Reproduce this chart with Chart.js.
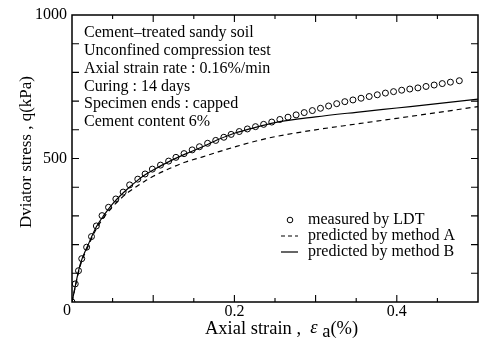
<!DOCTYPE html>
<html>
<head>
<meta charset="utf-8">
<script src="https://cdn.jsdelivr.net/npm/chart.js@4.4.0/dist/chart.umd.min.js"></script>
<style>
  html, body { margin: 0; padding: 0; background: #fff; }
  #wrap { width: 483px; height: 339px; }
</style>
</head>
<body>
<div id="wrap"><canvas id="myChart"></canvas></div>
<script>
// measured by LDT (open circles)
const measuredStrain = [0, 0.004, 0.008, 0.012, 0.018, 0.024, 0.030, 0.037, 0.045, 0.054, 0.063, 0.071, 0.081, 0.090, 0.099,
  0.109, 0.119, 0.128, 0.138, 0.148, 0.157, 0.167, 0.177, 0.187, 0.196, 0.206, 0.216, 0.226, 0.236, 0.246, 0.256, 0.266,
  0.276, 0.286, 0.296, 0.306, 0.316, 0.326, 0.336, 0.346, 0.356, 0.366, 0.376, 0.386, 0.396, 0.406, 0.416, 0.426, 0.436,
  0.446, 0.456, 0.466, 0.477];
const measuredStress = [0, 63, 109, 151, 191, 228, 265, 301, 330, 359, 383, 408, 428, 446, 463,
  477, 491, 504, 517, 530, 541, 553, 563, 574, 584, 594, 603, 611, 619, 627, 636, 644,
  652, 660, 667, 675, 683, 691, 698, 704, 710, 716, 722, 728, 733, 738, 742, 746, 751,
  756, 761, 766, 771];

// predicted curves
const predStrain = [0, 0.01, 0.02, 0.03, 0.04, 0.05, 0.06, 0.07, 0.08, 0.09, 0.1, 0.12, 0.14, 0.16, 0.18, 0.2, 0.22, 0.25, 0.3, 0.35, 0.4, 0.45, 0.5];
const methodA = [0, 125, 195, 255, 298, 332, 360, 384, 403, 422, 438, 465, 488, 505, 523, 540, 556, 576, 600, 620, 640, 660, 681];
const methodB = [0, 130, 200, 262, 305, 342, 372, 398, 422, 443, 460, 490, 516, 540, 566, 588, 604, 625, 645, 661, 676, 691, 707];

const xTickLabels = [0.2, 0.4];
const yTickLabels = [500, 1000];

const infoLines = [
  'Cement\u2013treated sandy soil',
  'Unconfined compression test',
  'Axial strain rate : 0.16%/min',
  'Curing : 14 days',
  'Specimen ends : capped',
  'Cement content 6%'
];
const legendLabels = ['measured by LDT', 'predicted by method A', 'predicted by method B'];

const toPoints = (xs, ys) => xs.map((x, i) => ({ x: x, y: ys[i] }));
const serif = '"Liberation Serif", "DejaVu Serif", serif';

// frame, inward ticks, notes and legend
const decorPlugin = {
  id: 'decor',
  afterDraw(chart) {
    const ctx = chart.ctx;
    const a = chart.chartArea;
    const xs = chart.scales.x;
    const ys = chart.scales.y;
    ctx.save();
    ctx.strokeStyle = '#000';
    ctx.lineWidth = 1.5;
    ctx.strokeRect(a.left, a.top, a.right - a.left, a.bottom - a.top);

    ctx.lineWidth = 1.1;
    ctx.beginPath();
    for (let i = 1; i < 10; i++) {
      const px = xs.getPixelForValue(i * 0.05);
      const len = (i % 2 === 0) ? 7 : 4;
      ctx.moveTo(px, a.bottom); ctx.lineTo(px, a.bottom - len);
      ctx.moveTo(px, a.top); ctx.lineTo(px, a.top + len);
    }
    for (let i = 1; i < 10; i++) {
      const py = ys.getPixelForValue(i * 100);
      ctx.moveTo(a.left, py); ctx.lineTo(a.left + 7, py);
      ctx.moveTo(a.right, py); ctx.lineTo(a.right - 7, py);
    }
    ctx.stroke();

    ctx.fillStyle = '#000';
    ctx.font = '16px ' + serif;
    ctx.textAlign = 'center';
    ctx.textBaseline = 'middle';
    ctx.fillText('0', a.left - 5, a.bottom + 9);

    // x axis title with subscript
    let x = 205;
    ctx.textAlign = 'left';
    ctx.font = '18.5px ' + serif;
    ctx.fillText('Axial strain ,  ', x, 329);
    x += ctx.measureText('Axial strain ,  ').width;
    ctx.font = 'italic 18.5px ' + serif;
    ctx.fillText('\u03b5', x, 328);
    x += ctx.measureText('\u03b5 ').width;
    ctx.font = '18.5px ' + serif;
    ctx.fillText('a', x, 332);
    x += ctx.measureText('a').width;
    ctx.fillText('(%)', x, 329);

    ctx.save();
    ctx.translate(27, 152);
    ctx.rotate(-Math.PI / 2);
    ctx.textAlign = 'center';
    ctx.font = '17px ' + serif;
    ctx.fillText('Dviator stress , q(kPa)', 0, 0);
    ctx.restore();

    // notes
    ctx.font = '16px ' + serif;
    ctx.textAlign = 'left';
    infoLines.forEach((t, i) => ctx.fillText(t, 84, 33 + i * 17.8));

    // legend
    const lx = 281, tx = 308;
    const rows = [220, 236, 252];
    ctx.font = '16px ' + serif;
    legendLabels.forEach((t, i) => ctx.fillText(t, tx, rows[i]));
    ctx.lineWidth = 1;
    ctx.beginPath();
    ctx.arc(lx + 9, rows[0], 2.8, 0, Math.PI * 2);
    ctx.stroke();
    ctx.lineWidth = 1.2;
    ctx.setLineDash([4, 3]);
    ctx.beginPath();
    ctx.moveTo(lx, rows[1]); ctx.lineTo(lx + 17, rows[1]);
    ctx.stroke();
    ctx.setLineDash([]);
    ctx.beginPath();
    ctx.moveTo(lx, rows[2]); ctx.lineTo(lx + 17, rows[2]);
    ctx.stroke();
    ctx.restore();
  }
};

new Chart(document.getElementById('myChart'), {
  type: 'scatter',
  data: {
    datasets: [
      {
        label: legendLabels[0],
        data: toPoints(measuredStrain, measuredStress),
        showLine: false,
        pointStyle: 'circle',
        pointRadius: 3,
        pointBorderWidth: 1,
        borderColor: '#000',
        backgroundColor: 'rgba(255,255,255,0)'
      },
      {
        label: legendLabels[1],
        data: toPoints(predStrain, methodA),
        showLine: true,
        pointRadius: 0,
        borderColor: '#000',
        borderWidth: 1.2,
        borderDash: [5, 4],
        cubicInterpolationMode: 'monotone'
      },
      {
        label: legendLabels[2],
        data: toPoints(predStrain, methodB),
        showLine: true,
        pointRadius: 0,
        borderColor: '#000',
        borderWidth: 1.2,
        cubicInterpolationMode: 'monotone'
      }
    ]
  },
  options: {
    responsive: true,
    maintainAspectRatio: false,
    animation: false,
    layout: { padding: { left: 0, right: 4, top: 15, bottom: 0 } },
    plugins: {
      legend: { display: false },
      tooltip: { enabled: false }
    },
    scales: {
      x: {
        type: 'linear',
        min: 0,
        max: 0.5,
        border: { display: false },
        grid: { display: false, drawTicks: false },
        afterFit: (s) => { s.height = 37; },
        afterBuildTicks: (s) => { s.ticks = xTickLabels.map(v => ({ value: v })); },
        ticks: {
          color: '#000',
          padding: 0,
          maxRotation: 0,
          font: { family: serif, size: 16 },
          callback: (v) => String(v)
        }
      },
      y: {
        min: 0,
        max: 1000,
        border: { display: false },
        grid: { display: false, drawTicks: false },
        afterFit: (s) => { s.width = 72; },
        afterBuildTicks: (s) => { s.ticks = yTickLabels.map(v => ({ value: v })); },
        ticks: {
          color: '#000',
          padding: 5,
          font: { family: serif, size: 16 },
          callback: (v) => String(v)
        }
      }
    }
  },
  plugins: [decorPlugin]
});
</script>
</body>
</html>
